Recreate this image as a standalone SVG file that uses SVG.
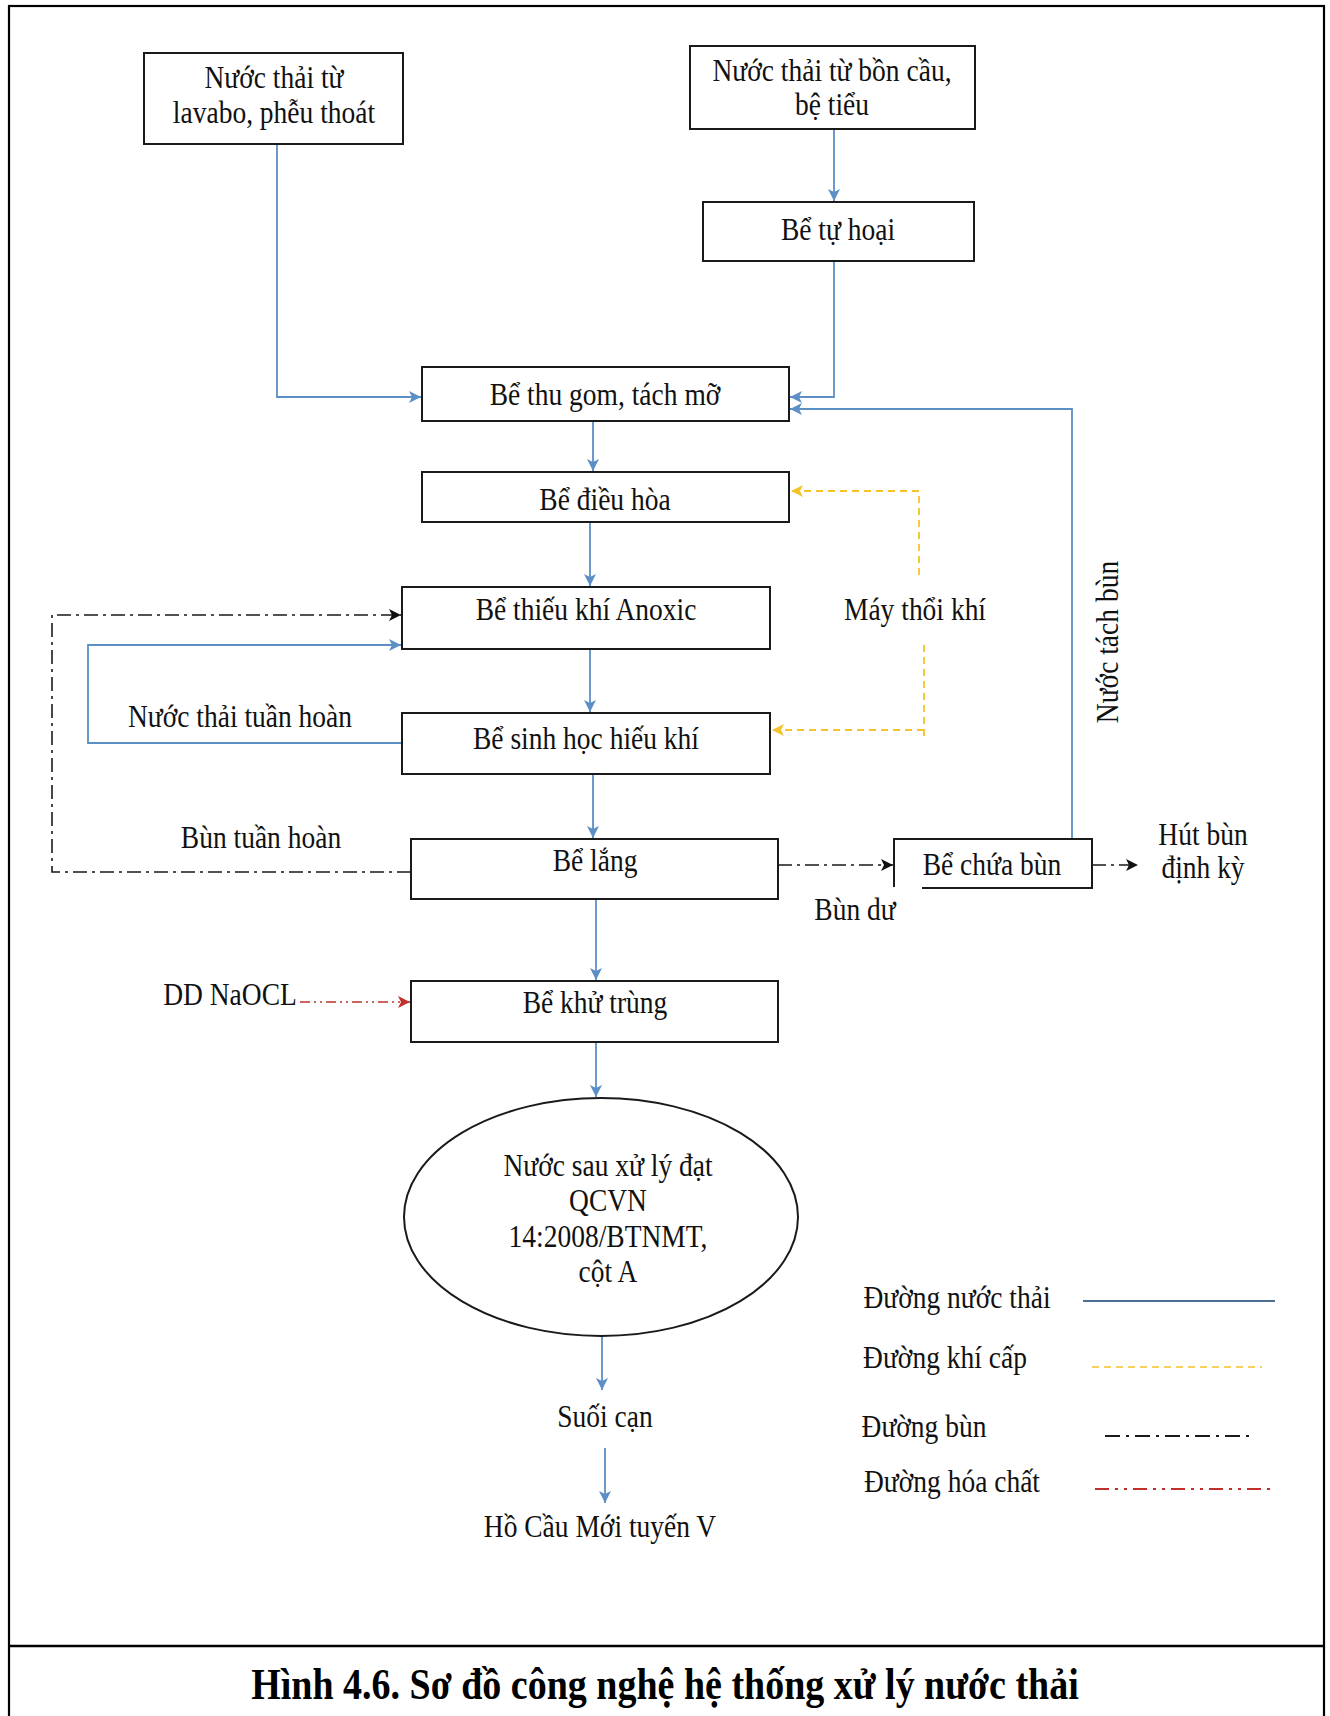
<svg xmlns="http://www.w3.org/2000/svg" width="1330" height="1716" viewBox="0 0 1330 1716">
<defs>
<style>
.t{font-family:'Liberation Serif','Times New Roman',serif;font-size:27.5px;fill:#111;text-anchor:middle}
.box{fill:#fff;stroke:#1a1a1a;stroke-width:2}
.blue{fill:none;stroke:#5b8fc6;stroke-width:1.8}
.yel{fill:none;stroke:#f5c22a;stroke-width:1.8;stroke-dasharray:7 5}
.mud{fill:none;stroke:#1a1a1a;stroke-width:1.6;stroke-dasharray:14 5 3 5}
.chem{fill:none;stroke:#c0302c;stroke-width:1.6;stroke-dasharray:10 4 2 4 2 4}
.title{font-family:'Liberation Serif','Times New Roman',serif;font-size:38px;font-weight:bold;fill:#000;text-anchor:middle}
</style>
<marker id="aB" viewBox="0 0 10 10" refX="10" refY="5" markerWidth="12" markerHeight="12" markerUnits="userSpaceOnUse" orient="auto"><path d="M0,0 L10,5 L0,10 L2.5,5 Z" fill="#5b8fc6"/></marker>
<marker id="aK" viewBox="0 0 10 10" refX="10" refY="5" markerWidth="12" markerHeight="12" markerUnits="userSpaceOnUse" orient="auto"><path d="M0,0 L10,5 L0,10 L2.5,5 Z" fill="#111"/></marker>
<marker id="aY" viewBox="0 0 10 10" refX="10" refY="5" markerWidth="12" markerHeight="12" markerUnits="userSpaceOnUse" orient="auto"><path d="M0,0 L10,5 L0,10 L2.5,5 Z" fill="#f5c22a"/></marker>
<marker id="aR" viewBox="0 0 10 10" refX="10" refY="5" markerWidth="12" markerHeight="12" markerUnits="userSpaceOnUse" orient="auto"><path d="M0,0 L10,5 L0,10 L2.5,5 Z" fill="#c0302c"/></marker>
</defs>
<rect width="1330" height="1716" fill="#fff"/>
<g id="frame">
<rect x="9" y="6" width="1315" height="1725" fill="none" stroke="#000" stroke-width="2.2"/>
<line x1="9" y1="1646" x2="1324" y2="1646" stroke="#000" stroke-width="2.5"/>
</g>

<g id="connectors">
<path class="blue" d="M277,144 V397 H421" marker-end="url(#aB)"/>
<path class="blue" d="M834,129 V201" marker-end="url(#aB)"/>
<path class="blue" d="M834,261 V397 H790" marker-end="url(#aB)"/>
<path class="blue" d="M1072,839 V409 H790" marker-end="url(#aB)"/>
<path class="blue" d="M593,421 V471" marker-end="url(#aB)"/>
<path class="blue" d="M590,522 V586" marker-end="url(#aB)"/>
<path class="blue" d="M590,649 V712" marker-end="url(#aB)"/>
<path class="blue" d="M593,774 V838" marker-end="url(#aB)"/>
<path class="blue" d="M596,899 V980" marker-end="url(#aB)"/>
<path class="blue" d="M596,1042 V1097" marker-end="url(#aB)"/>
<path class="blue" d="M602,1336 V1390" marker-end="url(#aB)"/>
<path class="blue" d="M605,1448 V1503" marker-end="url(#aB)"/>
<path class="blue" d="M402,743 H88 V645 H401" marker-end="url(#aB)"/>
<path class="mud" d="M411,872 H52 V615 H401" marker-end="url(#aK)"/>
<path class="mud" d="M778,865 H893" marker-end="url(#aK)"/>
<path class="mud" d="M1092,865 H1138" marker-end="url(#aK)"/>
<path class="yel" d="M919,575 V491 H791" marker-end="url(#aY)"/>
<path class="yel" d="M924,645 V740"/>
<path class="yel" d="M924,730 H772" marker-end="url(#aY)"/>
<path class="chem" d="M300,1002 H410" marker-end="url(#aR)"/>
</g>

<g id="n1"><rect class="box" x="144" y="53" width="259" height="91"/><text class="t" transform="translate(274 88) scale(1 1.12)">Nước thải từ</text><text class="t" transform="translate(274 123) scale(1 1.12)">lavabo, phễu thoát</text></g>
<g id="n2"><rect class="box" x="690" y="46" width="285" height="83"/><text class="t" transform="translate(832 81) scale(1 1.12)">Nước thải từ bồn cầu,</text><text class="t" transform="translate(832 115) scale(1 1.12)">bệ tiểu</text></g>
<g id="n3"><rect class="box" x="703" y="202" width="271" height="59"/><text class="t" transform="translate(838 240) scale(1 1.12)">Bể tự hoại</text></g>
<g id="n4"><rect class="box" x="422" y="367" width="367" height="54"/><text class="t" transform="translate(605 405) scale(1 1.12)">Bể thu gom, tách mỡ</text></g>
<g id="n5"><rect class="box" x="422" y="472" width="367" height="50"/><text class="t" transform="translate(605 510) scale(1 1.12)">Bể điều hòa</text></g>
<g id="n6"><rect class="box" x="402" y="587" width="368" height="62"/><text class="t" transform="translate(586 620) scale(1 1.12)">Bể thiếu khí Anoxic</text></g>
<g id="n7"><rect class="box" x="402" y="713" width="368" height="61"/><text class="t" transform="translate(586 749) scale(1 1.12)">Bể sinh học hiếu khí</text></g>
<g id="n8"><rect class="box" x="411" y="839" width="367" height="60"/><text class="t" transform="translate(595 871) scale(1 1.12)">Bể lắng</text></g>
<g id="n9"><path d="M922,888 H1092 V839 H894 V887" fill="#fff" stroke="#1a1a1a" stroke-width="2"/><text class="t" transform="translate(992 875) scale(1 1.12)">Bể chứa bùn</text></g>
<g id="n10"><rect class="box" x="411" y="981" width="367" height="61"/><text class="t" transform="translate(595 1013) scale(1 1.12)">Bể khử trùng</text></g>
<g id="n11"><ellipse cx="601" cy="1217" rx="197" ry="119" fill="#fff" stroke="#1a1a1a" stroke-width="2"/>
<text class="t" transform="translate(608 1176) scale(1 1.12)">Nước sau xử lý đạt</text><text class="t" transform="translate(608 1211) scale(1 1.12)">QCVN</text><text class="t" transform="translate(608 1247) scale(1 1.12)">14:2008/BTNMT,</text><text class="t" transform="translate(608 1282) scale(1 1.12)">cột A</text></g>
<g id="n12"><text class="t" transform="translate(605 1427) scale(1 1.12)">Suối cạn</text></g>
<g id="n13"><text class="t" transform="translate(600 1537) scale(1 1.12)">Hồ Cầu Mới tuyến V</text></g>
<g id="n14"><text class="t" transform="translate(915 620) scale(1 1.12)">Máy thổi khí</text></g>
<g id="n15"><text class="t" transform="translate(230 1005) scale(1 1.12)">DD NaOCL</text></g>
<g id="n16"><text class="t" transform="translate(1203 845) scale(1 1.12)">Hút bùn</text><text class="t" transform="translate(1203 878) scale(1 1.12)">định kỳ</text></g>

<g id="labels">
<text class="t" transform="translate(1118 642) rotate(-90) scale(1 1.12)">Nước tách bùn</text>
<text class="t" transform="translate(240 727) scale(1 1.12)">Nước thải tuần hoàn</text>
<text class="t" transform="translate(261 848) scale(1 1.12)">Bùn tuần hoàn</text>
<text class="t" transform="translate(855 920) scale(1 1.12)">Bùn dư</text>
</g>

<g id="legend">
<text class="t" transform="translate(957 1308) scale(1 1.12)">Đường nước thải</text>
<line x1="1083" y1="1301" x2="1275" y2="1301" stroke="#4d6f93" stroke-width="2"/>
<text class="t" transform="translate(945 1368) scale(1 1.12)">Đường khí cấp</text>
<line x1="1092" y1="1367" x2="1262" y2="1367" stroke="#f5c22a" stroke-width="1.6" stroke-dasharray="7 5"/>
<text class="t" transform="translate(924 1437) scale(1 1.12)">Đường bùn</text>
<line x1="1105" y1="1436" x2="1252" y2="1436" stroke="#1a1a1a" stroke-width="1.8" stroke-dasharray="15 6 3 6"/>
<text class="t" transform="translate(952 1492) scale(1 1.12)">Đường hóa chất</text>
<line x1="1095" y1="1489" x2="1273" y2="1489" stroke="#c0302c" stroke-width="1.8" stroke-dasharray="14 6 3 6 3 6"/>
</g>

<g id="caption"><text class="title" transform="translate(665 1699) scale(1 1.18)">Hình 4.6. Sơ đồ công nghệ hệ thống xử lý nước thải</text></g>
</svg>
